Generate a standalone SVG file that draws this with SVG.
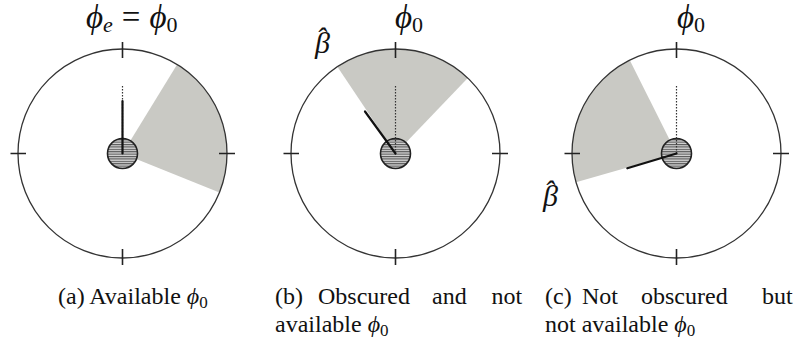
<svg xmlns="http://www.w3.org/2000/svg" width="802" height="343" viewBox="0 0 802 343">
<style>
.bg{fill:#fff}
.ring{fill:none;stroke:#333;stroke-width:1.3}
.tick{stroke:#222;stroke-width:1.6}
.wedge{fill:#c9c9c4;stroke:none}
.hub{fill:url(#hatch);stroke:#222;stroke-width:1.6}
.needle{stroke:#111;stroke-width:2.2;stroke-linecap:round}
.ref{stroke:#333;stroke-width:1.2;stroke-dasharray:1.5 1.5}
</style>
<defs>
<pattern id="hatch" patternUnits="userSpaceOnUse" width="6" height="2.4">
<rect width="6" height="2.4" fill="#d6d6d6"/>
<rect width="6" height="1.1" fill="#555"/>
</pattern>
</defs>
<rect class="bg" width="802" height="343"/>

<g id="panel-a">
<path class="wedge" d="M122.5,153.5 L177.1,64.4 A104.5,104.5 0 0 1 219.4,192.6 Z"/>
<circle class="ring" cx="122.5" cy="153.5" r="104.5"/>
<path class="tick" d="M122.5,42V58M122.5,249V265M10.5,153.5H26M219,153.5H235"/>
<circle class="hub" cx="122.5" cy="153.5" r="15"/>
<line class="ref" x1="122.5" y1="153.5" x2="122.5" y2="85"/>
<line class="needle" x1="122.5" y1="153.5" x2="122.5" y2="101"/>
<text font-family="Liberation Serif" font-style="italic" fill="#111" x="86" y="28" font-size="33">ϕ<tspan font-size="22" dy="4">e</tspan><tspan dy="-4" font-style="normal" dx="9">=</tspan><tspan dx="9">ϕ</tspan><tspan font-style="normal" font-size="22" dy="4">0</tspan></text>
</g>

<g id="panel-b">
<path class="wedge" d="M395.5,153.5 L337.4,66.7 A104.5,104.5 0 0 1 467.8,78.1 Z"/>
<circle class="ring" cx="395.5" cy="153.5" r="104.5"/>
<path class="tick" d="M395.5,42V58M395.5,249V265M283.5,153.5H299M492,153.5H508"/>
<circle class="hub" cx="395.5" cy="153.5" r="15"/>
<line class="ref" x1="395.5" y1="153.5" x2="395.5" y2="85"/>
<line class="needle" x1="395.5" y1="153.5" x2="365" y2="111.5"/>
<text font-family="Liberation Serif" font-style="italic" fill="#111" x="395" y="28" font-size="33">ϕ<tspan font-style="normal" font-size="22" dy="4">0</tspan></text>
<text font-family="Liberation Serif" font-style="italic" fill="#111" x="315" y="53" font-size="30">β<tspan dx="-14" dy="-5">ˆ</tspan></text>
</g>

<g id="panel-c">
<path class="wedge" d="M676.5,153.5 L576.0,182.3 A104.5,104.5 0 0 1 629.7,60.1 Z"/>
<circle class="ring" cx="676.5" cy="153.5" r="104.5"/>
<path class="tick" d="M676.5,42V58M676.5,249V265M564.5,153.5H580M773,153.5H789"/>
<circle class="hub" cx="676.5" cy="153.5" r="15"/>
<line class="ref" x1="676.5" y1="153.5" x2="676.5" y2="85"/>
<line class="needle" x1="676.5" y1="153.5" x2="627.3" y2="168.3"/>
<text font-family="Liberation Serif" font-style="italic" fill="#111" x="677" y="28" font-size="33">ϕ<tspan font-style="normal" font-size="22" dy="4">0</tspan></text>
<text font-family="Liberation Serif" font-style="italic" fill="#111" x="543" y="206" font-size="30">β<tspan dx="-14" dy="-5">ˆ</tspan></text>
</g>

<g id="captions" fill="#111">
<text font-family="Liberation Serif" font-size="24" x="58" y="304">(a) Available <tspan font-style="italic">ϕ</tspan><tspan font-size="17" dy="4">0</tspan></text>
<text font-family="Liberation Serif" font-size="24" y="304"><tspan x="275">(b)</tspan><tspan x="318">Obscured</tspan><tspan x="432">and</tspan><tspan x="491.5">not</tspan></text>
<text font-family="Liberation Serif" font-size="24" x="275" y="332">available <tspan font-style="italic">ϕ</tspan><tspan font-size="17" dy="4">0</tspan></text>
<text font-family="Liberation Serif" font-size="24" y="304"><tspan x="545">(c)</tspan><tspan x="582">Not</tspan><tspan x="641">obscured</tspan><tspan x="762">but</tspan></text>
<text font-family="Liberation Serif" font-size="24" x="545" y="332">not available <tspan font-style="italic">ϕ</tspan><tspan font-size="17" dy="4">0</tspan></text>
</g>
</svg>
